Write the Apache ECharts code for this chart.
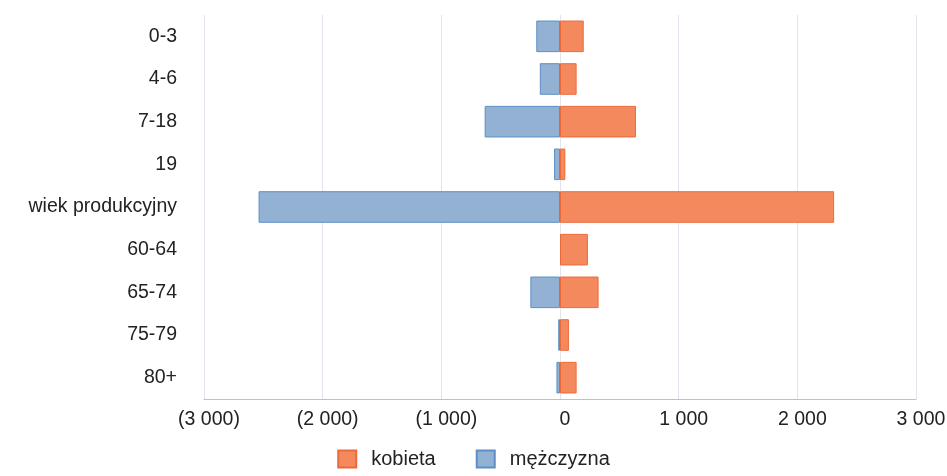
<!DOCTYPE html>
<html>
<head>
<meta charset="utf-8">
<script src="https://cdn.jsdelivr.net/npm/echarts@6/dist/echarts.min.js"></script>
<style>html,body{margin:0;padding:0;background:#fff}#c{width:947px;height:476px}</style>
</head>
<body>
<div id="c"></div>
<script>
const categories = ['0-3','4-6','7-18','19','wiek produkcyjny','60-64','65-74','75-79','80+'];
const kobieta = [200, 140, 640, 45, 2310, 235, 325, 75, 140];
const mezczyzna = [-200, -170, -635, -50, -2540, null, -250, -15, -30];
const xTicks = [-3000, -2000, -1000, 0, 1000, 2000, 3000];

function fmt(v){
  const a = Math.abs(v);
  const s = String(a).replace(/\B(?=(\d{3})+(?!\d))/g, ' ');
  return v < 0 ? '(' + s + ')' : s;
}

const chart = echarts.init(document.getElementById('c'));
chart.setOption({
  animation: false,
  textStyle: {fontFamily: 'Liberation Sans, Arial, sans-serif'},
  grid: {left: 204, right: 31, top: 15, bottom: 77, outerBoundsMode: 'none', containLabel: false},
  legend: {
    bottom: 2, left: 'center',
    itemWidth: 18, itemHeight: 17, itemGap: 40,
    icon: 'rect',
    textStyle: {fontSize: 20, color: '#222', padding: [0, 0, 0, 10]},
    data: ['kobieta', 'mężczyzna']
  },
  xAxis: {
    type: 'value',
    min: xTicks[0], max: xTicks[xTicks.length - 1], interval: 1000,
    axisLine: {show: true, lineStyle: {color: '#b9bfdf'}},
    axisTick: {show: false},
    splitLine: {show: true, lineStyle: {color: '#e3e3ee'}},
    axisLabel: {fontSize: 19.5, color: '#222', margin: 11, padding: [0, 0, 0, 10], formatter: fmt}
  },
  yAxis: {
    type: 'category',
    data: categories,
    inverse: true,
    axisLine: {show: false},
    axisTick: {show: false},
    axisLabel: {fontSize: 19.5, color: '#222', margin: 27}
  },
  series: [
    {
      name: 'kobieta', type: 'bar', stack: 'total', data: kobieta,
      barWidth: '74%',
      itemStyle: {color: '#f5895e', borderColor: '#ec6a3a', borderWidth: 1}
    },
    {
      name: 'mężczyzna', type: 'bar', stack: 'total', data: mezczyzna,
      itemStyle: {color: '#93b2d3', borderColor: '#5b8fc6', borderWidth: 1}
    }
  ]
});
</script>
</body>
</html>
